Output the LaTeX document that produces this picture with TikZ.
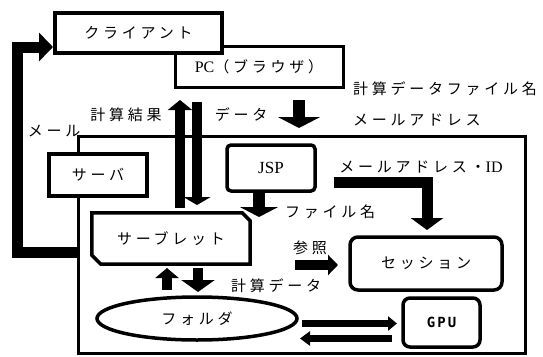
\documentclass[tikz,border=0pt]{standalone}
\usepackage{fontspec}
\newfontfamily\jp{Noto Sans CJK JP}[LetterSpace=25]
\newfontfamily\lat{Liberation Serif}
\newfontfamily\gpuf{DejaVu Sans Mono}[LetterSpace=15]
\usetikzlibrary{arrows.meta,shapes.geometric,calc}
\tikzset{
  box/.style={draw, line width=3.5pt, inner sep=0pt, fill=white},
  lbl/.style={inner sep=0pt},
  blk/.style n args={3}{line width=#1, -{Triangle[width=#2,length=#3]}},
  mailline/.style={line width=11pt, line join=miter, -{Triangle[width=28pt,length=14pt]}}
}
\begin{document}
\begin{tikzpicture}[x=1pt,y=-1pt, font=\jp\fontsize{15}{18}\selectfont]
\useasboundingbox (0,0) rectangle (543,356);
% browser side
\node[box, line width=3pt, minimum width=168pt, minimum height=41pt] (pc) at (259,66.5)
  {{\lat\fontsize{16}{18}\selectfont PC}（ブラウザ）};
\node[box, line width=4pt, minimum width=167pt, minimum height=40pt] (client) at (138.5,33) {クライアント};
% server area
\node[draw, line width=3pt, minimum width=447pt, minimum height=217pt, inner sep=0pt] (big) at (301.5,244.5) {};
\node[box, line width=4pt, minimum width=98pt, minimum height=42pt] (server) at (98,175) {サーバ};
\node[box, rounded corners=4pt, minimum width=88pt, minimum height=46pt] (jsp) at (271,168)
  {{\lat\fontsize{17}{18}\selectfont JSP}};
\node[inner sep=0pt, minimum width=158pt, minimum height=51pt] (servlet) at (171,238.5) {サーブレット};
\draw[line width=3.5pt] (servlet.north west) -- ($(servlet.north east)+(-8pt,0)$)
  -- ($(servlet.north east)+(0,-8pt)$) -- (servlet.south east)
  -- ($(servlet.south west)+(9pt,0)$) -- ($(servlet.south west)+(0,9pt)$) -- cycle;
\node[box, rounded corners=8pt, minimum width=152pt, minimum height=53pt] (session) at (426,263.5) {セッション};
\node[box, rounded corners=7pt, minimum width=77pt, minimum height=49pt] (gpu) at (441.5,322.5)
  {{\gpuf\bfseries\fontsize{14}{16}\selectfont GPU}};
\node[box, ellipse, minimum width=200pt, minimum height=43pt] (folder) at (197,318.5) {フォルダ};
% labels
\node[lbl] (lmail) at (54,131) {メール};
\node[lbl] (lres) at (126,115) {計算結果};
\node[lbl] (ldata) at (241,115) {データ};
\node[lbl, anchor=west] (lcalcfile) at (353,89) {計算データファイル名};
\node[lbl, anchor=west] (laddr) at (353,120) {メールアドレス};
\node[lbl] (laddrid) at (421,167) {メールアドレス・{\lat\fontsize{16}{18}\selectfont ID}};
\node[lbl] (lfile) at (330,212) {ファイル名};
\node[lbl] (lref) at (310,248) {参照};
\node[lbl] (lcalc) at (276,286) {計算データ};
% coordinates for arrow ends
\coordinate (aS) at (180,208); \coordinate (aE) at (180,100);
\coordinate (bS) at (197,102); \coordinate (bE) at (197,205);
\coordinate (cS) at (299,100); \coordinate (cE) at (299,128);
\coordinate (dS) at (259,191); \coordinate (dE) at (259,217);
\coordinate (eS) at (334,182); \coordinate (eE) at (427,230);
\coordinate (fS) at (295,265); \coordinate (fE) at (338,265);
\coordinate (gS) at (167,290); \coordinate (gE) at (167,268);
\coordinate (hS) at (198,268); \coordinate (hE) at (198,292);
\coordinate (iS) at (302,323.5); \coordinate (iE) at (397,323.5);
\coordinate (jS) at (392,338.5); \coordinate (jE) at (300,338.5);
\coordinate (mS) at (big.west |- 0,252); \coordinate (mC) at (17,252);
% arrows
\draw[mailline] (mS) -- (mC) |- ([yshift=-14pt]client.west);
\draw[blk={10pt}{24pt}{10pt}] (aS) -- (aE);
\draw[blk={10pt}{27pt}{8pt}] (bS) -- (bE);
\draw[blk={12pt}{42pt}{11pt}] (cS) -- (cE);
\draw[blk={12pt}{38pt}{10pt}] (dS) -- (dE);
\draw[blk={11pt}{32pt}{12pt}, line join=miter] (eS) -| (eE);
\draw[blk={10pt}{20pt}{10pt}] (fS) -- (fE);
\draw[blk={10pt}{23pt}{10pt}] (gS) -- (gE);
\draw[blk={10pt}{33pt}{12pt}] (hS) -- (hE);
\draw[blk={7pt}{14pt}{9pt}] (iS) -- (iE);
\draw[blk={7pt}{14pt}{10pt}] (jS) -- (jE);
\end{tikzpicture}
\end{document}
